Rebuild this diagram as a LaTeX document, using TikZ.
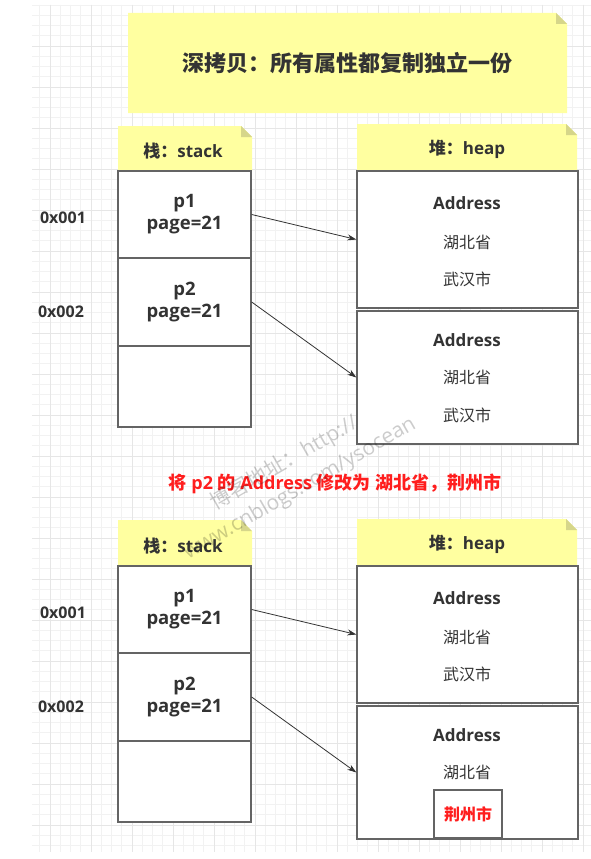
\documentclass[tikz,border=0pt]{standalone}
\usepackage{fontspec}
\setmainfont{Open Sans}
\newfontfamily\cjk{Noto Sans CJK SC}
\usepackage{tikz}
\usetikzlibrary{arrows.meta}
\definecolor{notefill}{RGB}{255,255,160}
\definecolor{notefold}{RGB}{214,214,138}
\definecolor{boxline}{RGB}{100,100,100}
\definecolor{txt}{RGB}{51,51,51}
\definecolor{gridminor}{RGB}{242,242,242}
\definecolor{gridmajor}{RGB}{230,230,230}
\definecolor{warn}{RGB}{255,30,30}

\begin{document}
\begin{tikzpicture}[x=1pt, y=-1pt,
    cell/.style={draw=boxline, line width=1.3pt, fill=white, minimum width=133pt, inner sep=0pt, text=txt, align=center, font=\bfseries\fontsize{18.5}{22}\selectfont},
    heapbox/.style={draw=boxline, line width=1.3pt, fill=white, minimum width=221pt, inner sep=0pt},
    lbl/.style={text=txt, font=\bfseries\fontsize{17}{20}\selectfont},
    cn/.style={text=txt, font=\cjk\fontsize{16}{20}\selectfont},
    wmark/.style={text=black, text opacity=0.2, font=\fontsize{21}{24}\selectfont, rotate=30},
    ptr/.style={draw=txt, line width=0.8pt, -{Stealth[length=9pt,width=6pt]}}]
    % Parameters
        \def\fold{11} % size of the folded note corner
        \useasboundingbox (0,0) rectangle (591,859);
        \fill[white] (0,0) rectangle (591,859);

        % Grid Lines
        \foreach \x in {39.75,50,...,591} \draw[gridminor, line width=0.6pt] (\x, 5) -- (\x, 852);
        \foreach \y in {5,15.25,...,852} \draw[gridminor, line width=0.6pt] (32, \y) -- (591, \y);
        \foreach \x in {50,91,...,591} \draw[gridmajor, line width=0.7pt] (\x, 5) -- (\x, 852);
        \foreach \y in {46,87,...,852} \draw[gridmajor, line width=0.7pt] (32, \y) -- (591, \y);

        % Yellow notes (title and headers)
        \foreach \xa/\ya/\xb/\yb in {128/13/567/113, 118/126/252/171, 357/124/577/171, 118/520/252/566, 357/519/577/566} {
            \fill[notefill] (\xa,\ya) -- (\xb-\fold,\ya) -- (\xb,\ya+\fold) -- (\xb,\yb) -- (\xa,\yb) -- cycle;
            \fill[notefold] (\xb-\fold,\ya) -- (\xb,\ya+\fold) -- (\xb-\fold,\ya+\fold) -- cycle;
        }
        \node[text=txt, font=\cjk\bfseries\fontsize{22}{26}\selectfont] (title) at (347, 63) {深拷贝：所有属性都复制独立一份};

        % Stack and heap, before and after
        \foreach \k/\oy in {a/0, b/395} {
            \node[lbl] (stack\k) at (183, 151+\oy) {{\cjk 栈：}stack};
            \node[lbl] (heap\k) at (467, 149+\oy) {{\cjk 堆：}heap};

            % Stack cells
            \node[cell, minimum height=87pt] (p1\k) at (184.5, 214.5+\oy) {p1\\page=21};
            \node[cell, minimum height=88pt] (p2\k) at (184.5, 302+\oy) {p2\\page=21};
            \node[cell, minimum height=81pt] (free\k) at (184.5, 386.5+\oy) {};
            \node[lbl, font=\bfseries\fontsize{16}{20}\selectfont] (addr1\k) at (63, 218+\oy) {0x001};
            \node[lbl, font=\bfseries\fontsize{16}{20}\selectfont] (addr2\k) at (61, 312+\oy) {0x002};

            % Heap objects
            \node[heapbox, minimum height=137pt] (obj1\k) at (467.5, 239.5+\oy) {};
            \node[heapbox, minimum height=133pt] (obj2\k) at (467.5, 377.5+\oy) {};
            \node[lbl] (name1\k) at (467, 203+\oy) {Address};
            \node[cn] (prov1\k) at (467, 242+\oy) {湖北省};
            \node[cn] (city1\k) at (467, 279+\oy) {武汉市};
            \node[lbl] (name2\k) at (467, 340+\oy) {Address};
            \node[cn] (prov2\k) at (467, 377+\oy) {湖北省};

            \draw[ptr] (p1\k.east) -- (obj1\k.west);
            \draw[ptr] (p2\k.east) -- (obj2\k.west);
        }
        \node[cn] (city2a) at (467, 415) {武汉市};
        \node[draw=boxline, line width=1.3pt, fill=white, minimum width=68pt, minimum height=48pt, text=warn, font=\cjk\bfseries\fontsize{16}{20}\selectfont] (city2b) at (468, 814) {荆州市};

        % Change note
        \node[text=warn, font=\bfseries\fontsize{18}{20}\selectfont] (change) at (335, 484) {{\cjk 将} p2 {\cjk 的} Address {\cjk 修改为} {\cjk 湖北省，荆州市}};

        % Watermark
        \node[wmark] (wm1) at (284, 463) {{\cjk 博客地址：}http://};
        \node[wmark] (wm2) at (300, 489) {www.cnblogs.com/ysocean};
    \end{tikzpicture}
\end{document}
